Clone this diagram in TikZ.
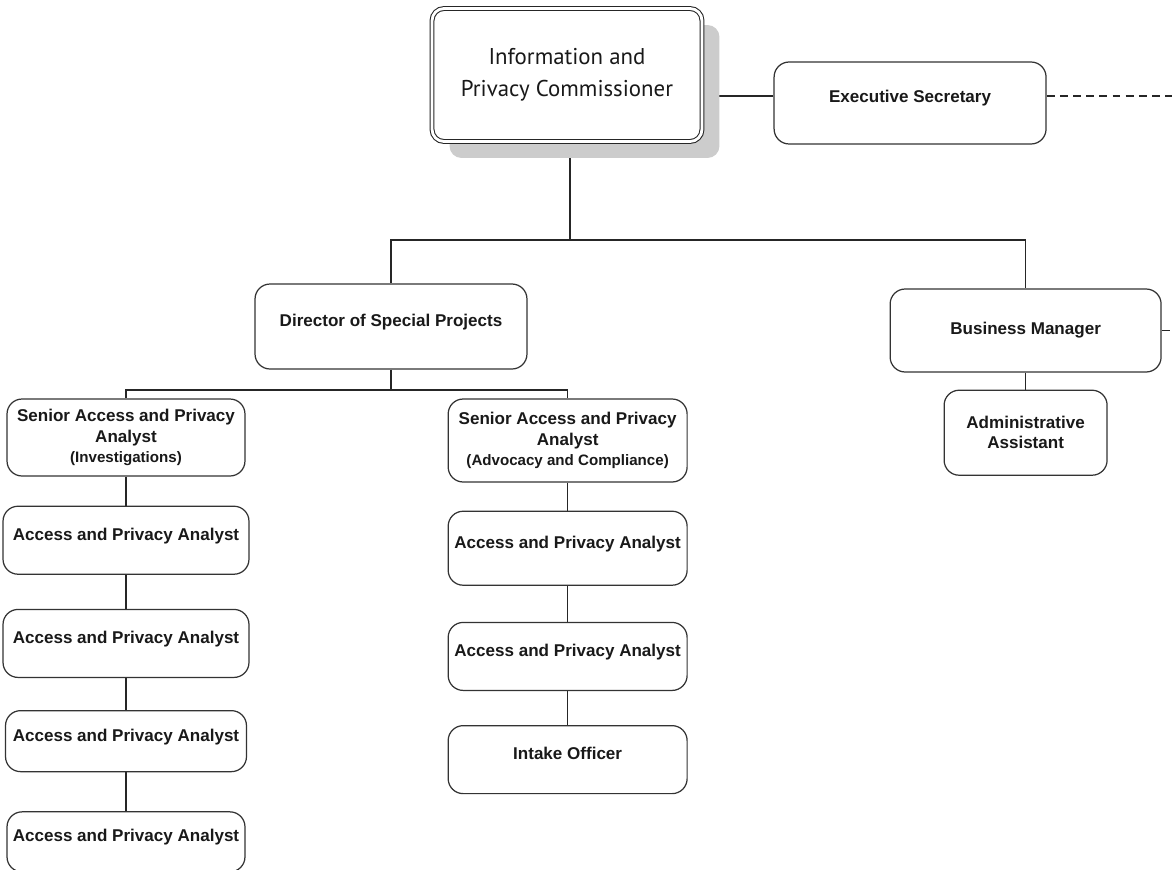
\documentclass[tikz,border=0pt]{standalone}
\usepackage{fontspec}
\setmainfont{Liberation Sans}
\newfontfamily\titlefont{PT Sans}
\usepackage{tikz}
\usetikzlibrary{positioning, shadows, backgrounds}

\begin{document}
\begin{tikzpicture}[
    x=0.02cm, y=-0.02cm,
    headbox/.style={rectangle, draw=black!85, fill=white, double, double distance=1.6pt, line width=0.6pt, rounded corners=0.24cm, minimum width=5.4cm, minimum height=2.66cm, align=center, font=\titlefont\fontsize{13}{18}\selectfont, text=black!90, drop shadow={shadow xshift=0.35cm, shadow yshift=-0.33cm, fill=black!20, opacity=1}},
    staffbox/.style={rectangle, draw=black!80, fill=white, line width=0.7pt, rounded corners=0.3cm, align=center, inner sep=0pt, font=\bfseries\fontsize{9.7}{11.5}\selectfont, text=black!90},
    highbox/.style={staffbox, text height=7pt, text depth=7pt},
    boxsize/.style 2 args={minimum width=#1, minimum height=#2},
    link/.style={line width=0.6pt, black!85},
    dashlink/.style={link, dash pattern=on 4.5pt off 3pt}
]
\useasboundingbox (0,0) rectangle (1172,869);

% Commissioner and secretary
\node[headbox] (ipc) at (567,75) {Information and\\Privacy Commissioner};
\node[highbox, boxsize={5.44cm}{1.64cm}, right=1.42cm of ipc, yshift=-0.56cm] (es) {Executive Secretary};

% Second level
\node[highbox, boxsize={5.44cm}{1.7cm}] (dsp) at (391,326.5) {Director of Special Projects};
\node[staffbox, boxsize={5.42cm}{1.66cm}, right=7.24cm of dsp, yshift=-0.08cm] (bm) {Business Manager};
\node[staffbox, boxsize={3.26cm}{1.7cm}, below=0.34cm of bm] (aa) {Administrative\\Assistant};

% Investigations column
\node[staffbox, boxsize={4.76cm}{1.54cm}] (sl) at (126,437.5) {Senior Access and Privacy\\Analyst\\{\fontsize{8.6}{10}\selectfont(Investigations)}};
\node[highbox, boxsize={4.92cm}{1.36cm}, below=0.58cm of sl] (apa1) {Access and Privacy Analyst};
\node[highbox, boxsize={4.92cm}{1.36cm}, below=0.68cm of apa1] (apa2) {Access and Privacy Analyst};
\node[highbox, boxsize={4.82cm}{1.22cm}, below=0.64cm of apa2] (apa3) {Access and Privacy Analyst};
\node[highbox, boxsize={4.76cm}{1.2cm}, below=0.78cm of apa3] (apa4) {Access and Privacy Analyst};

% Advocacy column
\node[staffbox, boxsize={4.78cm}{1.66cm}, right=4.04cm of sl, yshift=-0.06cm] (sr) {Senior Access and Privacy\\Analyst\\{\fontsize{8.6}{10}\selectfont(Advocacy and Compliance)}};
\node[highbox, boxsize={4.78cm}{1.48cm}, below=0.56cm of sr] (apa5) {Access and Privacy Analyst};
\node[highbox, boxsize={4.78cm}{1.36cm}, below=0.72cm of apa5] (apa6) {Access and Privacy Analyst};
\node[highbox, boxsize={4.78cm}{1.36cm}, below=0.68cm of apa6] (intake) {Intake Officer};

% Lines
\begin{scope}[on background layer]
\coordinate (rim) at (1172,0);
\coordinate (bus1) at (570,240);
\coordinate (bus2) at (391,390);
\coordinate (esin) at ([yshift=0.14cm]es.west);
\draw[link] (esin) -- (esin -| ipc.east);
\draw[dashlink] (es.east |- esin) -- (esin -| rim);
\draw[dashlink] (bm.east) -- (bm.east -| rim);
\draw[link] (bus1 |- ipc.south) -- (bus1);
\draw[link] (dsp.north) |- (bus1) -| (bm.north);
\draw[link] (dsp.south) -- (bus2);
\draw[link] (sl.north) |- (bus2) -| (sr.north);
\foreach \a/\b in {sl/apa1, apa1/apa2, apa2/apa3, apa3/apa4, sr/apa5, apa5/apa6, apa6/intake, bm/aa}
  \draw[link] (\a.south) -- (\b.north);
\end{scope}

\end{tikzpicture}
\end{document}
